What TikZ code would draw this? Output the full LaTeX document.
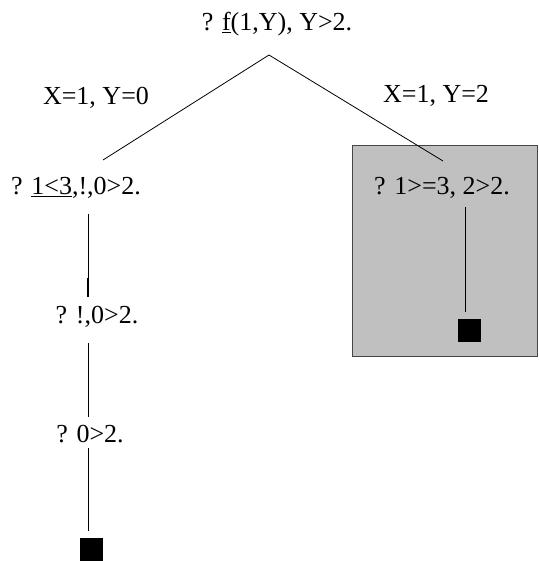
\documentclass[tikz,border=0pt]{standalone}
\usepackage{fontspec}
\setmainfont{Liberation Serif}
\begin{document}
\begin{tikzpicture}[x=1pt,y=-1pt,
  txt/.style={inner sep=0pt,outer sep=0pt,anchor=base,font=\fontsize{26}{31}\selectfont},
  edge/.style={draw=black,line width=0.8pt},
  leaf/.style={fill=black,draw=none,minimum size=23pt,inner sep=0pt}]
\useasboundingbox (0,0) rectangle (538,561);
% shaded box
\draw[fill={rgb,255:red,192;green,192;blue,192},draw={rgb,255:red,70;green,70;blue,70},line width=0.8pt]
  (352,145) rectangle (537.6,356);
% texts
\node[txt] (root) at (277,31) {? \underline{f}(1,Y), Y>2.};
\node[txt] (lab1) at (96,105) {X=1, Y=0};
\node[txt] (lab2) at (436,103) {X=1, Y=2};
\node[txt] (a1) at (76,195) {? \underline{1<3},!,0>2.};
\node[txt] (b1) at (442,195) {? 1>=3, 2>2.};
\node[txt] (a2) at (97,323) {? !,0>2.};
\node[txt] (a3) at (90,442) {? 0>2.};
\node[leaf] (sqb) at (469.5,330.5) {};
\node[leaf] (sqa) at (91.5,549.5) {};
% connector endpoints
\coordinate (apex) at (269,55);
\coordinate (lend) at (103,160);
\coordinate (rend) at (443,161);
\coordinate (a1b) at (88,214);
\coordinate (a2t) at (88,297);
\coordinate (a2k) at (88,278);
\coordinate (a2b) at (88,343);
\coordinate (a3t) at (88,417);
\coordinate (a3b) at (88,448);
\coordinate (a4) at (88,531);
\coordinate (b1b) at (465,207);
\coordinate (b2) at (465,312);
% connectors
\draw[edge] (lend) -- (apex) -- (rend);
\draw[edge] (a1b) -- (a2t);
\draw[draw=black,line width=1.8pt] (a2k) -- (a2t);
\draw[edge] (a2b) -- (a3t);
\draw[edge] (a3b) -- (a4);
\draw[edge] (b1b) -- (b2);
\end{tikzpicture}
\end{document}
